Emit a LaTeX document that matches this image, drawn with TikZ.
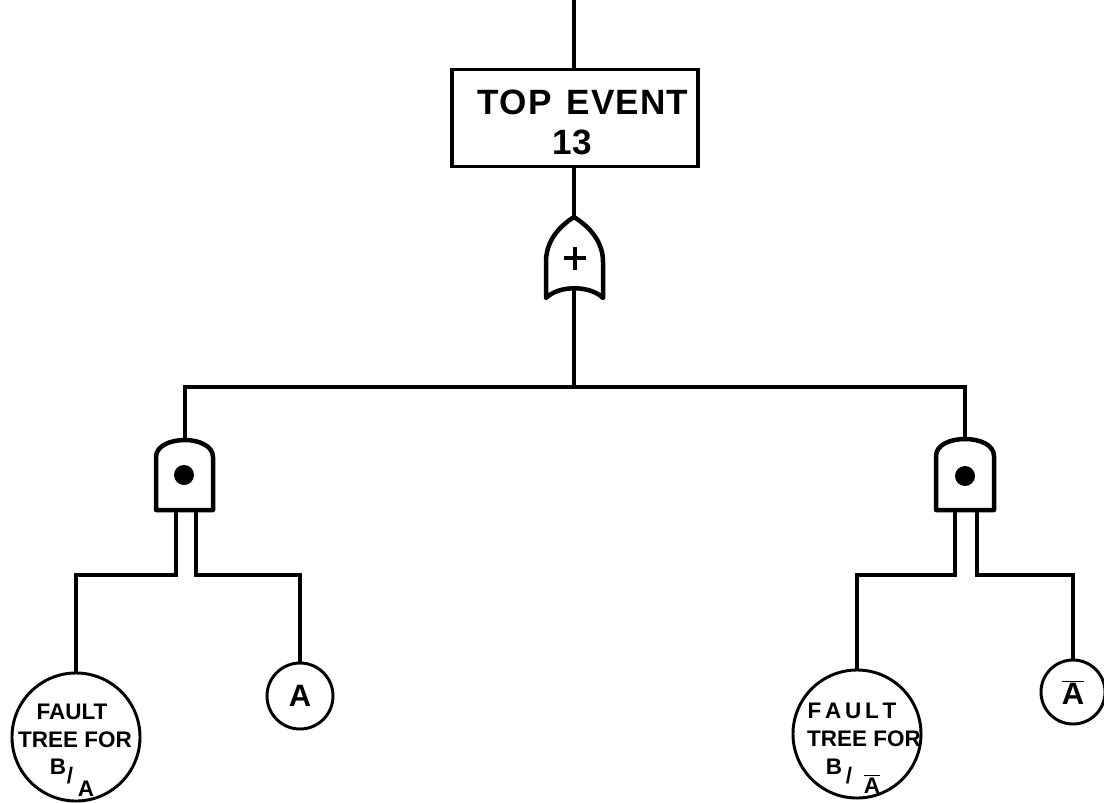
\documentclass[tikz,border=0pt]{standalone}
\usepackage{fontspec}
\setmainfont{Liberation Sans}
\usetikzlibrary{positioning,calc}

\begin{document}
\begin{tikzpicture}[x=0.025cm, y=-0.025cm,
    wire/.style={line width=2.6pt},
    gate/.style={line width=3.2pt, line join=round},
    box/.style={draw, line width=2.4pt, minimum width=6.15cm, minimum height=2.42cm, inner sep=0pt},
    evt/.style={draw, circle, line width=2.1pt, inner sep=0pt},
    lbl/.style={inner sep=0pt, font=\fontsize{16}{18}\selectfont\bfseries},
    big/.style={inner sep=0pt, font=\fontsize{25}{28}\selectfont\bfseries}
]
    \useasboundingbox[fill=white] (0,0) rectangle (1104,802);

    % Top event
    \coordinate (in) at (574,0);
    \node[box] (top) at (575,118) {};
    \node[big] (toptxt) at (583,102) {\addfontfeature{LetterSpace=3}TOP\hspace{3pt} EVENT};
    \node[big] (topnum) at (572,142) {13};
    \draw[wire] (in) -- (in |- top.north);

    % OR gate
    \coordinate (ortop) at (574,217);
    \coordinate (orout) at (574,289);
    \draw[gate] (546,298) -- (546,262) .. controls (546,240) and (560,226) .. (ortop)
        .. controls (588,226) and (603,240) .. (603,262) -- (603,298)
        .. controls (590,285) and (559,285) .. cycle;
    \draw[wire] (564,258) -- (586,258) (575,247) -- (575,270);
    \draw[wire] (ortop |- top.south) -- (ortop);

    % Bar to the AND gates
    \coordinate (bar) at (574,387);
    \coordinate (landtop) at (185,440);
    \coordinate (randtop) at (965,439);
    \draw[wire] (orout) -- (bar);
    \draw[wire] (landtop) |- (bar) -| (randtop);

    % Left AND gate
    \draw[gate] (156,510) -- (156,457) .. controls (156,446) and (170,440) .. (landtop)
        .. controls (199,440) and (213,446) .. (213,457) -- (213,510) -- cycle;
    \fill (184,475) circle[radius=10];

    % Right AND gate
    \draw[gate] (936,510) -- (936,456) .. controls (936,445) and (950,439) .. (randtop)
        .. controls (980,439) and (994,445) .. (994,456) -- (994,510) -- cycle;
    \fill (965,476) circle[radius=10];

    % Events
    \node[evt, minimum size=3.2cm] (lfault) at (76,737) {};
    \node[evt, minimum size=1.65cm, font=\fontsize{22}{24}\selectfont\bfseries] (lA) at (300,696) {A};
    \node[evt, minimum size=3.2cm] (rfault) at (857,734) {};
    \node[evt, minimum size=1.6cm, font=\fontsize{22}{24}\selectfont\bfseries] (rnA) at (1073,692) {$\overline{\mbox{A}}$};

    \node[lbl] (lf1) at (72,712) {FAULT};
    \node[lbl] (lf2) at (75,740) {TREE FOR};
    \node[lbl] (lfB) at (58,767) {B};
    \node[lbl] (lfs) at (70,776) {/};
    \node[lbl] (lfA) at (86,789) {A};

    \node[lbl] (rf1) at (852,711) {F\,A\,U\,L\,T};
    \node[lbl] (rf2) at (864,739) {TREE FOR};
    \node[lbl] (rfB) at (834,767) {B};
    \node[lbl] (rfs) at (849,776) {/};
    \node[lbl] (rfA) at (872,784) {$\overline{\mbox{A}}$};

    % Legs of the AND gates
    \coordinate (ll1) at (176,575);
    \coordinate (ll2) at (196,575);
    \coordinate (rl1) at (955,575);
    \coordinate (rl2) at (977,575);
    \draw[wire] (ll1 |- 0,510) -- (ll1) -| (lfault.north);
    \draw[wire] (ll2 |- 0,510) -- (ll2) -| (lA.north);
    \draw[wire] (rl1 |- 0,510) -- (rl1) -| (rfault.north);
    \draw[wire] (rl2 |- 0,510) -- (rl2) -| (rnA.north);
\end{tikzpicture}
\end{document}
